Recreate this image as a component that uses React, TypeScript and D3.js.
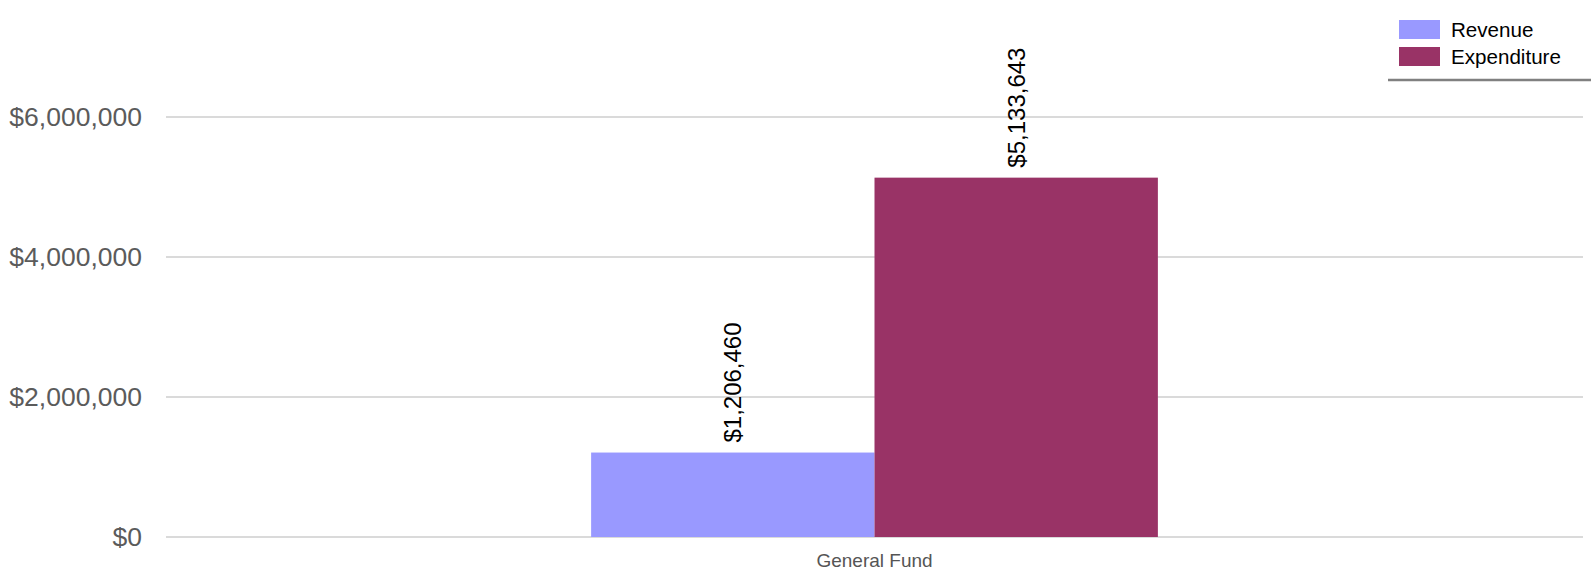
import { useRef, useEffect } from "react";
import * as d3 from "d3";

const categories = ["General Fund"];
const seriesNames = ["Revenue", "Expenditure"];
const revenue = [1206460];
const expenditure = [5133643];
const yTicks = [0, 2000000, 4000000, 6000000];
const colors = ["#9999ff", "#993366"];

export default function App() {
  const ref = useRef<SVGSVGElement | null>(null);

  useEffect(() => {
    if (!ref.current) return;

    const width = 1591;
    const height = 570;
    const margin = { top: 117, right: 8, bottom: 33, left: 166 };

    const svg = d3.select(ref.current);
    svg.selectAll("*").remove();
    svg.attr("width", width).attr("height", height);

    const x = d3
      .scaleBand<string>()
      .domain(categories)
      .range([margin.left, width - margin.right])
      .paddingInner(0.4286)
      .paddingOuter(0.4286);

    const x1 = d3
      .scaleBand<string>()
      .domain(seriesNames)
      .range([0, x.bandwidth()]);

    const y = d3
      .scaleLinear()
      .domain([0, 6000000])
      .range([height - margin.bottom, margin.top]);

    const fmt = (v: number) => "$" + d3.format(",")(v);

    // gridlines
    svg
      .append("g")
      .selectAll("line")
      .data(yTicks)
      .join("line")
      .attr("x1", margin.left)
      .attr("x2", width - margin.right)
      .attr("y1", (d) => y(d))
      .attr("y2", (d) => y(d))
      .attr("stroke", "#dadada")
      .attr("stroke-width", 2);

    // y labels
    svg
      .append("g")
      .selectAll("text")
      .data(yTicks)
      .join("text")
      .attr("x", 142)
      .attr("y", (d) => y(d))
      .attr("dy", "0.35em")
      .attr("text-anchor", "end")
      .attr("font-family", "Arial, 'Liberation Sans', sans-serif")
      .attr("font-size", 26.5)
      .attr("fill", "#5b5b5b")
      .text((d) => fmt(d));

    const values = [revenue, expenditure];

    categories.forEach((cat, ci) => {
      seriesNames.forEach((name, si) => {
        const v = values[si][ci];
        const bx = (x(cat) || 0) + (x1(name) || 0);
        const bw = x1.bandwidth();
        svg
          .append("rect")
          .attr("x", bx)
          .attr("y", y(v))
          .attr("width", bw)
          .attr("height", y(0) - y(v))
          .attr("fill", colors[si]);

        const cx = bx + bw / 2;
        const ty = y(v) - 10;
        svg
          .append("text")
          .attr("transform", `translate(${cx},${ty}) rotate(-90)`)
          .attr("dy", "0.35em")
          .attr("text-anchor", "start")
          .attr("font-family", "Arial, 'Liberation Sans', sans-serif")
          .attr("font-size", 24)
          .attr("fill", "#000")
          .text(fmt(v));
      });

      svg
        .append("text")
        .attr("x", (x(cat) || 0) + x.bandwidth() / 2)
        .attr("y", 567)
        .attr("text-anchor", "middle")
        .attr("font-family", "Arial, 'Liberation Sans', sans-serif")
        .attr("font-size", 19)
        .attr("fill", "#555")
        .text(cat);
    });

    // legend
    const legend = svg.append("g");
    seriesNames.forEach((name, i) => {
      const ly = 20 + i * 27;
      legend
        .append("rect")
        .attr("x", 1399)
        .attr("y", ly)
        .attr("width", 41)
        .attr("height", 19)
        .attr("fill", colors[i]);
      legend
        .append("text")
        .attr("x", 1451)
        .attr("y", ly + 9.5)
        .attr("dy", "0.35em")
        .attr("font-family", "Arial, 'Liberation Sans', sans-serif")
        .attr("font-size", 20.6)
        .attr("fill", "#000")
        .text(name);
    });
    legend
      .append("line")
      .attr("x1", 1388)
      .attr("x2", width)
      .attr("y1", 80)
      .attr("y2", 80)
      .attr("stroke", "#808080")
      .attr("stroke-width", 2.5);
  }, []);

  return (
    <svg
      ref={ref}
      style={{ position: "absolute", left: 0, top: 0, display: "block" }}
    />
  );
}
